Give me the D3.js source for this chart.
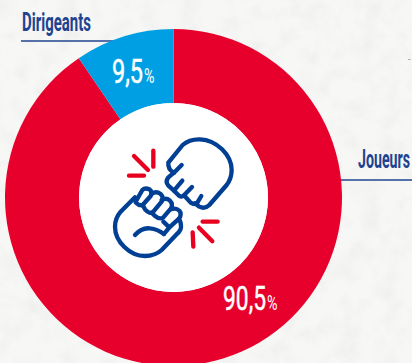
<!DOCTYPE html>
<html><head><meta charset="utf-8">
<script src="https://cdn.jsdelivr.net/npm/d3@7"></script>
<style>html,body{margin:0;padding:0;background:#f4f4f3;overflow:hidden}svg{display:block}
text{font-family:"Liberation Sans Narrow","Roboto","Liberation Sans",sans-serif}</style>
</head><body><svg id="c" width="412" height="363"></svg>
<script>
const categories = ["Joueurs", "Dirigeants"];
const values = [90.5, 9.5];
const valueLabels = ["90,5", "9,5"];
const colors = ["#e8002d", "#009fe3"];

const svg = d3.select("#c");
const defs = svg.append("defs");
const f = defs.append("filter").attr("id","paper").attr("x",0).attr("y",0).attr("width","100%").attr("height","100%");
f.append("feTurbulence").attr("type","fractalNoise").attr("baseFrequency",0.05).attr("numOctaves",4).attr("seed",4);
f.append("feColorMatrix").attr("values","0 0 0 0 0.55  0 0 0 0 0.55  0 0 0 0 0.55  0.3 0 0 0 -0.12");
svg.append("rect").attr("width",412).attr("height",363).attr("fill","#f7f7f6");
svg.append("rect").attr("width",412).attr("height",363).attr("filter","url(#paper)");

const cx = 173.5, cy = 197.5, R = 168.5, r = 94.5;
const navy = "#21438f";

// leader lines
svg.append("line").attr("x1",21).attr("x2",120).attr("y1",41).attr("y2",41).attr("stroke",navy).attr("stroke-width",1.3);
svg.append("line").attr("x1",340).attr("x2",412).attr("y1",180).attr("y2",180).attr("stroke",navy).attr("stroke-width",1.3);
svg.append("text").attr("x",408).attr("y",62).attr("font-size",8).attr("fill","#555").text("-");

const g = svg.append("g").attr("transform",`translate(${cx},${cy})`);
const pie = d3.pie().sort(null).value(d=>d)(values);
const arc = d3.arc().innerRadius(r).outerRadius(R);
g.selectAll("path").data(pie).join("path").attr("d",arc).attr("fill",(d,i)=>colors[i]);
g.append("circle").attr("r",r).attr("fill","#fff");

// squeeze a text horizontally to a given width, keeping its height
const fit = (t,x,y,w,size,fill,weight,sw)=>{
  const el = svg.append("text").attr("font-size",size).attr("font-weight",weight).attr("fill",fill).text(t);
  if (sw) el.attr("stroke",fill).attr("stroke-width",sw);
  const len = el.node().getComputedTextLength();
  el.attr("transform",`translate(${x},${y}) scale(${w/len},1)`);
};
fit(categories[1],22,30.5,69,26,navy,700);
fit(categories[0],358,167.5,52,26,navy,700);

fit(valueLabels[1],112,83,31,34,"#fff",400,0.5);
fit("%",144,83,10.5,20,"#fff",400);
fit(valueLabels[0],223,310,43,34,"#fff",400,0.5);
fit("%",267,310,10.5,20,"#fff",400);

// icon
const ic = svg.append("g").attr("transform","translate(100,120) scale(0.3333)").attr("fill","none")
  .attr("stroke-linecap","round").attr("stroke-linejoin","round");
const blue = ic.append("g").attr("stroke","#003f94").attr("stroke-width",13);
[
 "M222,158 Q203,148 205,128 L248,75 Q268,57 300,58 C350,60 395,105 395,150 Q395,175 380,195 L328,255 Q315,268 298,260 L285,250",
 "M245,135 L222,158 L205,172 Q195,185 205,197 L222,212 L247,182",
 "M222,212 L238,228 Q245,232 252,226 L276,201",
 "M252,226 L272,248 Q285,256 292,248 L304,228",
 "M105,232 L62,275 Q45,295 45,320 C45,365 90,408 135,408 Q165,408 185,390 L228,345 Q245,330 243,318 Q243,305 236,297",
 "M105,345 Q125,322 150,325 Q172,327 192,342",
 "M110,240 L127,210 Q135,202 148,208 Q158,215 152,228 L128,255 Q118,258 108,248 Q105,245 110,240 Z",
 "M155,222 Q168,212 182,222 Q192,232 185,245 L160,275 Q150,285 135,268 L128,255",
 "M185,240 Q198,232 210,242 Q220,252 213,265 L190,292 Q180,300 165,288 L155,278",
 "M213,268 Q228,262 238,272 Q246,282 238,295 L208,322 L190,305",
 "M192,342 L208,322"
].forEach(d=>blue.append("path").attr("d",d));
const red = ic.append("g").attr("stroke","#e8001f").attr("stroke-width",13);
[[102,108,144,150],[160,92,160,140],[87,167,132,167],[308,305,353,305],[297,323,337,364],[278,337,280,380]]
 .forEach(a=>red.append("line").attr("x1",a[0]).attr("y1",a[1]).attr("x2",a[2]).attr("y2",a[3]));
</script></body></html>
